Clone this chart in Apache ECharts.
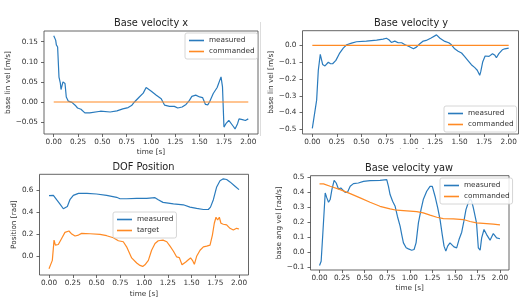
<!DOCTYPE html>
<html><head><meta charset="utf-8">
<script src="https://cdn.jsdelivr.net/npm/echarts@6/dist/echarts.min.js"></script>
<style>html,body{margin:0;padding:0;background:#fff}#c{width:521px;height:301px}</style>
</head><body><div id="c"></div>
<script>
// ---- Data ----
const xTicks = [0,0.25,0.5,0.75,1.0,1.25,1.5,1.75,2.0];

// Base velocity x
const tVx = [0,0.02,0.027,0.04,0.054,0.068,0.075,0.095,0.116,0.129,0.15,0.187,0.22,0.245,0.28,0.32,0.37,0.48,0.58,0.65,0.71,0.765,0.8,0.83,0.88,0.92,0.95,0.97,1.0,1.055,1.105,1.14,1.19,1.24,1.275,1.32,1.36,1.395,1.42,1.46,1.5,1.53,1.56,1.585,1.605,1.64,1.68,1.72,1.735,1.75,1.77,1.8,1.82,1.847,1.864,1.89,1.905,1.94,1.97,2.0];
const vxMeasured = [0.165,0.154,0.142,0.137,0.062,0.047,0.031,0.05,0.046,0.0125,0.002,-0.001,-0.008,-0.015,-0.018,-0.027,-0.027,-0.023,-0.025,-0.022,-0.017,-0.014,-0.009,0.0,0.0125,0.022,0.036,0.038,0.0275,0.017,0.008,-0.008,-0.011,-0.011,-0.015,-0.0125,-0.006,0.004,0.014,0.017,0.0125,0.011,-0.006,-0.007,0.002,0.021,0.036,0.0625,0.0375,-0.0625,-0.054,-0.046,-0.047,-0.061,-0.067,-0.054,-0.042,-0.044,-0.046,-0.042];
const tVxCmd = [0,2.0];
const vxCommanded = [0,0];
const vxTicks = [-0.05,0,0.05,0.10,0.15];

// Base velocity y
const tVy = [0,0.02,0.044,0.061,0.081,0.105,0.129,0.163,0.186,0.207,0.24,0.275,0.315,0.35,0.4,0.45,0.55,0.655,0.72,0.755,0.78,0.805,0.84,0.875,0.91,0.94,0.985,1.03,1.06,1.095,1.13,1.16,1.21,1.265,1.3,1.35,1.39,1.417,1.45,1.485,1.5,1.52,1.55,1.59,1.62,1.655,1.68,1.705,1.715,1.735,1.76,1.8,1.835,1.86,1.875,1.9,1.935,1.96,2.0];
const vyMeasured = [-0.494,-0.49,-0.326,-0.148,-0.053,-0.113,-0.122,-0.1,-0.109,-0.109,-0.089,-0.049,-0.016,0.004,0.014,0.022,0.026,0.032,0.038,0.043,0.034,0.018,0.026,0.016,0.016,0.006,-0.006,-0.02,-0.01,0.01,0.026,0.03,0.045,0.063,0.043,0.024,0.016,0.004,-0.02,-0.034,-0.026,-0.045,-0.065,-0.093,-0.115,-0.132,-0.148,-0.178,-0.158,-0.099,-0.063,-0.065,-0.049,-0.059,-0.073,-0.049,-0.026,-0.02,-0.016];
const tVyCmd = [0,2.0];
const vyCommanded = [0,0];
const vyTicks = [-0.5,-0.4,-0.3,-0.2,-0.1,0.0];

// DOF position
const tPosM = [0,0.02,0.046,0.08,0.116,0.151,0.168,0.193,0.22,0.256,0.31,0.4,0.5,0.607,0.712,0.747,0.817,0.923,1.028,1.116,1.15,1.2,1.31,1.414,1.484,1.554,1.625,1.677,1.7,1.73,1.765,1.8,1.835,1.87,1.905,1.958,2.0];
const posMeasured = [0.551,0.566,0.554,0.514,0.474,0.432,0.428,0.453,0.514,0.554,0.572,0.572,0.566,0.554,0.536,0.523,0.523,0.526,0.526,0.533,0.514,0.49,0.477,0.468,0.447,0.435,0.425,0.425,0.447,0.514,0.63,0.686,0.704,0.698,0.676,0.637,0.606];
const tPosT = [0,0.01,0.02,0.035,0.053,0.067,0.08,0.098,0.116,0.133,0.15,0.168,0.186,0.21,0.24,0.274,0.31,0.344,0.432,0.537,0.607,0.677,0.73,0.782,0.817,0.87,0.923,0.958,0.986,1.01,1.046,1.08,1.116,1.15,1.2,1.24,1.274,1.31,1.344,1.372,1.4,1.42,1.44,1.467,1.49,1.51,1.53,1.554,1.59,1.625,1.66,1.695,1.72,1.74,1.758,1.775,1.793,1.81,1.835,1.87,1.905,1.94,1.975,2.0];
const posTarget = [-0.113,-0.122,-0.129,-0.037,0.147,0.101,0.107,0.107,0.11,0.162,0.178,0.217,0.233,0.23,0.202,0.184,0.193,0.208,0.205,0.199,0.187,0.168,0.141,0.132,0.086,-0.015,-0.061,-0.083,-0.092,-0.077,-0.037,0.055,0.116,0.141,0.147,0.132,0.092,0.046,-0.006,-0.012,-0.077,-0.083,-0.052,-0.031,-0.015,-0.037,-0.073,0.0,0.055,0.086,0.092,0.101,0.193,0.3,0.355,0.33,0.355,0.3,0.291,0.285,0.254,0.239,0.254,0.248];
const posTicks = [0.0,0.2,0.4,0.6];

// Base velocity yaw
const tYawM = [0,0.018,0.037,0.063,0.081,0.1,0.118,0.137,0.162,0.185,0.21,0.236,0.258,0.284,0.31,0.34,0.376,0.43,0.487,0.56,0.67,0.745,0.764,0.782,0.81,0.838,0.863,0.893,0.911,0.93,0.96,0.985,1.022,1.048,1.07,1.096,1.125,1.15,1.188,1.225,1.25,1.28,1.31,1.336,1.36,1.38,1.4,1.42,1.446,1.465,1.49,1.52,1.546,1.576,1.6,1.623,1.65,1.668,1.686,1.705,1.723,1.74,1.76,1.78,1.797,1.823,1.852,1.89,1.926,1.963,2.0];
const yawMeasured = [-0.089,-0.06,0.128,0.394,0.361,0.332,0.35,0.416,0.478,0.46,0.42,0.427,0.416,0.398,0.398,0.438,0.456,0.46,0.471,0.476,0.478,0.482,0.438,0.383,0.339,0.305,0.239,0.173,0.117,0.062,0.029,0.022,0.013,0.018,0.062,0.195,0.283,0.35,0.405,0.438,0.438,0.372,0.294,0.217,0.117,0.04,0.007,0.04,0.062,0.066,0.035,0.029,0.084,0.133,0.206,0.283,0.332,0.354,0.339,0.294,0.294,0.195,0.029,0.013,0.095,0.151,0.117,0.08,0.124,0.095,0.089];
const tYawC = [0,0.044,0.118,0.229,0.34,0.45,0.56,0.67,0.782,0.856,0.967,1.077,1.15,1.225,1.3,1.372,1.483,1.594,1.668,1.74,1.852,1.926,2.0];
const yawCommanded = [0.454,0.454,0.438,0.416,0.389,0.361,0.332,0.305,0.288,0.279,0.275,0.27,0.261,0.246,0.232,0.223,0.221,0.217,0.204,0.195,0.19,0.186,0.181];
const yawTicks = [-0.1,0.0,0.1,0.2,0.3,0.4,0.5];

// ---- Chart ----
const BLUE = '#2a7bbd', ORANGE = '#ff8a24', TXT = '#333';
const FS = 7.3;
const zip = (t, v) => t.map((x, i) => [x, v[i]]);
const minus = s => s.replace('-', '\u2212');

const grids = [
  {left: 44,    top: 31,    width: 214,   height: 103},
  {left: 302.5, top: 30.7,  width: 216,   height: 103.3},
  {left: 39.5,  top: 174.3, width: 209,   height: 100.7},
  {left: 310.5, top: 175.7, width: 198.5, height: 94.3}
].map(g => Object.assign({show: true, borderColor: '#555', borderWidth: 0.9, backgroundColor: '#fff'}, g));

function xAx(i, name, gap) {
  return {
    type: 'value', gridIndex: i, min: -0.1, max: 2.1, position: 'bottom',
    name: name, nameLocation: 'middle', nameGap: gap,
    nameTextStyle: {fontSize: FS, color: TXT},
    axisLine: {show: false, onZero: false},
    axisTick: {show: true, inside: false, customValues: xTicks, length: 3, lineStyle: {color: '#444', width: 0.8}},
    axisLabel: {customValues: xTicks, fontSize: FS, color: TXT, margin: 5, formatter: v => v.toFixed(2)},
    splitLine: {show: false}
  };
}
function yAx(i, min, max, ticks, dec, name, gap) {
  return {
    type: 'value', gridIndex: i, min: min, max: max, position: 'left',
    name: name, nameLocation: 'middle', nameGap: gap, nameRotate: 90,
    nameTextStyle: {fontSize: FS, color: TXT},
    axisLine: {show: false, onZero: false},
    axisTick: {show: true, inside: false, customValues: ticks, length: 3, lineStyle: {color: '#444', width: 0.8}},
    axisLabel: {customValues: ticks, fontSize: FS, color: TXT, margin: 6, formatter: v => minus(v.toFixed(dec))},
    splitLine: {show: false}
  };
}
function line(name, data, color, i) {
  return {type: 'line', name: name, xAxisIndex: i, yAxisIndex: i, data: data, showSymbol: false,
    lineStyle: {color: color, width: 1.2}, itemStyle: {color: color}, animation: false};
}
function legend(names, left, top) {
  return {data: names, left: left, top: top, orient: 'vertical', icon: 'rect', itemWidth: 15, itemHeight: 1.6,
    itemGap: 4, padding: [4, 3, 4, 4], backgroundColor: 'rgba(255,255,255,0.85)', borderColor: '#ccc', borderWidth: 0.8,
    borderRadius: 2, textStyle: {fontSize: FS, color: TXT}, selectedMode: false};
}
function title(text, x, y) {
  return {text: text, left: x, top: y, padding: 0, textAlign: 'center', textStyle: {fontSize: 9.8, fontWeight: 'normal', color: '#222', fontFamily: 'DejaVu Sans'}};
}

const chart = echarts.init(document.getElementById('c'), null, {renderer: 'canvas'});
chart.setOption({
  animation: false,
  textStyle: {fontFamily: 'DejaVu Sans'},
  title: [
    title('Base velocity x', 151, 18.5),
    title('Base velocity y', 411, 18.5),
    title('DOF Position', 143.5, 162.5),
    title('Base velocity yaw', 409, 163.5)
  ],
  grid: grids,
  xAxis: [xAx(0, 'time [s]', 15), xAx(1, 'time [s]', 15), xAx(2, 'time [s]', 16), xAx(3, 'time [s]', 15)],
  yAxis: [
    yAx(0, -0.0797, 0.1767, vxTicks, 2, 'base lin vel [m/s]', 31),
    yAx(1, -0.528, 0.088, vyTicks, 1, 'base lin vel [m/s]', 26),
    yAx(2, -0.17, 0.745, posTicks, 1, 'Position [rad]', 21),
    yAx(3, -0.1185, 0.5085, yawTicks, 1, 'base ang vel [rad/s]', 24)
  ],
  legend: [
    legend(['measured', 'commanded'], 185, 33),
    legend(['measured', 'commanded'], 444, 106),
    legend(['measured', 'target'], 113, 212),
    legend(['measured', 'commanded'], 440, 178)
  ],
  series: [
    line('measured', zip(tVx, vxMeasured), BLUE, 0),
    line('commanded', zip(tVxCmd, vxCommanded), ORANGE, 0),
    line('measured', zip(tVy, vyMeasured), BLUE, 1),
    line('commanded', zip(tVyCmd, vyCommanded), ORANGE, 1),
    line('measured', zip(tPosM, posMeasured), BLUE, 2),
    line('target', zip(tPosT, posTarget), ORANGE, 2),
    line('measured', zip(tYawM, yawMeasured), BLUE, 3),
    line('commanded', zip(tYawC, yawCommanded), ORANGE, 3)
  ],
  graphic: [
    {type: 'rect', z: 100, shape: {x: 262, y: 149, width: 259, height: 10}, style: {fill: '#fff'}},
    {type: 'line', z: 100, shape: {x1: 260.5, y1: 22, x2: 260.5, y2: 136}, style: {stroke: '#ddd', lineWidth: 1}}
  ]
});
</script>
</body></html>
